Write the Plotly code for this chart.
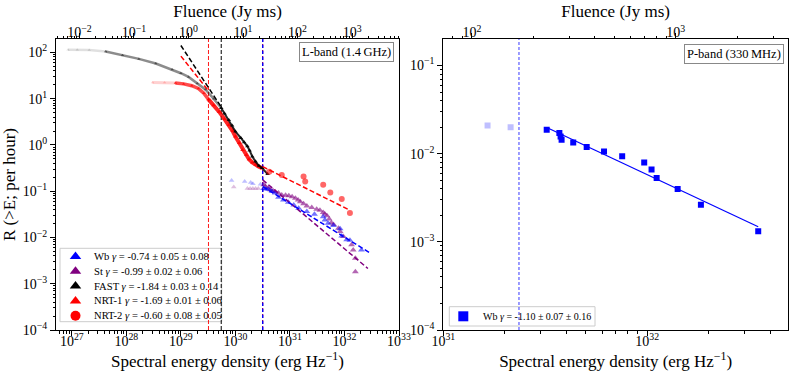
import numpy as np
import plotly.graph_objects as go

# all values are log10
# left panel: L-band, x = log10 spectral energy density (erg/Hz), y = log10 R(>E) per hour
fast_faint_logE = [26.93, 27.10, 27.32, 27.62, 27.93, 28.23, 28.54, 28.84, 29.00, 29.14, 29.30, 29.45, 29.60, 29.74]
fast_faint_logR = [2.06, 2.06, 2.05, 2.02, 1.94, 1.86, 1.76, 1.63, 1.55, 1.47, 1.33, 1.20, 1.00, 0.80]
fast_logE = [29.74, 29.80, 29.88, 29.94, 30.00, 30.10, 30.16, 30.22, 30.26, 30.31, 30.37, 30.43, 30.49, 30.59]
fast_logR = [0.80, 0.68, 0.54, 0.42, 0.29, 0.15, 0.06, -0.03, -0.12, -0.25, -0.36, -0.45, -0.50, -0.63]

nrt1_faint_logE = [28.48, 28.70, 28.90, 29.05, 29.20, 29.32, 29.42, 29.51]
nrt1_faint_logR = [1.35, 1.35, 1.34, 1.32, 1.28, 1.22, 1.12, 0.98]
nrt1_logE = [29.51, 29.60, 29.70, 29.80, 29.88, 29.95, 30.00, 30.07, 30.13, 30.20, 30.25, 30.31, 30.37, 30.43, 30.49]
nrt1_logR = [0.98, 0.86, 0.72, 0.56, 0.43, 0.30, 0.18, 0.04, -0.11, -0.22, -0.31, -0.38, -0.43, -0.47, -0.50]

nrt2_logE = [30.62, 30.85, 31.25, 31.28, 31.61, 31.74, 31.95, 32.10]
nrt2_logR = [-0.58, -0.65, -0.68, -0.79, -0.86, -1.03, -1.17, -1.47]

st_faint_logE = [29.97, 30.22, 30.27, 30.32, 30.37, 30.42]
st_faint_logR = [-0.91, -0.94, -0.94, -0.94, -0.94, -0.94]
st_logE = [30.52, 30.55, 30.60, 30.64, 30.69, 30.73, 30.79, 30.85, 30.92, 30.98, 31.04, 31.10, 31.15, 31.19,
           31.25, 31.31, 31.40, 31.49, 31.55, 31.61, 31.64, 31.68, 31.72, 31.76, 31.80, 31.89, 31.92, 31.98,
           32.13, 32.16, 32.20, 32.20]
st_logR = [-0.86, -0.90, -0.93, -0.97, -0.99, -1.01, -1.04, -1.08, -1.09, -1.10, -1.12, -1.15, -1.19, -1.23,
           -1.27, -1.32, -1.35, -1.39, -1.41, -1.46, -1.49, -1.53, -1.60, -1.68, -1.72, -1.80, -1.87, -1.98,
           -2.16, -2.27, -2.45, -2.74]

wb_faint_logE = [29.93, 30.17, 30.28, 30.32, 30.46]
wb_faint_logR = [-0.77, -0.79, -0.81, -0.84, -0.85]
wb_logE = [30.52, 30.56, 30.61, 30.67, 30.73, 30.79, 30.88, 30.97, 31.07, 31.16, 31.31, 31.45, 31.61, 31.64,
           31.70, 31.80, 31.92, 31.95, 32.04, 32.10, 32.31]
wb_logR = [-0.94, -0.95, -0.96, -1.00, -1.04, -1.13, -1.19, -1.24, -1.30, -1.37, -1.44, -1.50, -1.55, -1.62,
           -1.69, -1.74, -1.81, -1.97, -2.05, -2.06, -2.27]

# power-law fits (end points)
fit_fast = ([29.00, 29.75], [2.15, 0.80])
fit_nrt1 = ([29.00, 29.50], [1.92, 1.18])
fit_nrt2 = ([30.50, 32.08], [-0.47, -1.40])
fit_st = ([30.50, 32.43], [-0.755, -2.67])
fit_wb = ([30.50, 32.45], [-0.90, -2.32])

# completeness thresholds
thr_nrt = 29.506
thr_fast = 29.74
thr_wb_st = 30.50

# right panel: P-band Wb
pb_faint_logE = [31.217, 31.330]
pb_faint_logR = [-1.680, -1.700]
pb_logE = [31.507, 31.569, 31.575, 31.580, 31.637, 31.703, 31.788, 31.877, 31.985, 32.021, 32.046, 32.149, 32.263, 32.544]
pb_logR = [-1.729, -1.767, -1.805, -1.843, -1.873, -1.925, -1.975, -2.031, -2.100, -2.180, -2.277, -2.400, -2.580, -2.880]
fit_pb = ([31.507, 32.544], [-1.703, -2.830])
thr_pb = 31.371

legend_left = [
    ("Wb", "-0.74 ± 0.05 ± 0.08", "blue", "triangle-up"),
    ("St", "-0.99 ± 0.02 ± 0.06", "purple", "triangle-up"),
    ("FAST", "-1.84 ± 0.03 ± 0.14", "black", "triangle-up"),
    ("NRT-1", "-1.69 ± 0.01 ± 0.06", "red", "triangle-up"),
    ("NRT-2", "-0.60 ± 0.08 ± 0.05", "red", "circle"),
]
legend_right = [("Wb", "-1.10 ± 0.07 ± 0.16", "blue", "square")]

FLU_OFF = 29.14  # log10(erg/Hz) per Jy ms
FONT = "Liberation Serif"


def lin(v):
    return [10.0 ** a for a in v]


def sup(n):
    return "10<sup>%s</sup>" % str(n).replace("-", "\u2212")


def minors(lo, hi):
    return [k * 10.0 ** n for n in range(lo, hi) for k in range(2, 10)]


def f(size):
    return dict(family=FONT, size=size, color="black")


fig = go.Figure()


def pts(xs, ys, color, symbol="triangle-up", size=6, xa="x", ya="y", line=None):
    mode = "markers" if line is None else "lines+markers"
    fig.add_trace(go.Scatter(
        x=lin(xs), y=lin(ys), mode=mode, xaxis=xa, yaxis=ya,
        marker=dict(symbol=symbol, size=size, color=color, line=dict(width=0)),
        line=dict(color=color, width=line or 1),
        showlegend=False, hoverinfo="skip",
    ))


def dline(xs, ys, color, dash="5px,2.5px", width=1.5, xa="x", ya="y"):
    fig.add_trace(go.Scatter(
        x=lin(xs), y=lin(ys), mode="lines", xaxis=xa, yaxis=ya,
        line=dict(color=color, width=width, dash=dash),
        showlegend=False, hoverinfo="skip",
    ))


# --- left panel ---
YL = [-4, 2.29]
dline([thr_nrt, thr_nrt], YL, "rgba(255,0,0,0.9)", dash="4px,2px", width=1)
dline([thr_fast, thr_fast], YL, "black", dash="4px,2px", width=1)
dline([thr_wb_st, thr_wb_st], YL, "purple", dash="4px,2px", width=1.3)
dline([thr_wb_st, thr_wb_st], YL, "blue", dash="3px,3px", width=1.3)

pts(fast_faint_logE[:4], fast_faint_logR[:4], "rgba(0,0,0,0.12)", size=3, line=2.5)
pts(fast_faint_logE[3:], fast_faint_logR[3:], "rgba(0,0,0,0.45)", size=3, line=2.5)
pts(nrt1_faint_logE[:3], nrt1_faint_logR[:3], "rgba(255,0,0,0.18)", size=3, line=3)
pts(nrt1_faint_logE[2:], nrt1_faint_logR[2:], "rgba(255,0,0,0.7)", size=3, line=3.5)
pts(nrt1_logE, nrt1_logR, "rgba(255,0,0,0.85)", size=4, line=4)
pts(fast_logE, fast_logR, "rgba(0,0,0,0.85)", size=4, line=2)

pts(st_faint_logE, st_faint_logR, "rgba(128,0,128,0.25)", size=5)
pts(wb_faint_logE, wb_faint_logR, "rgba(0,0,255,0.25)", size=5)
pts(st_logE, st_logR, "rgba(128,0,128,0.6)", size=6)
pts(wb_logE, wb_logR, "rgba(0,0,255,0.55)", size=6)
pts(nrt2_logE, nrt2_logR, "rgba(255,0,0,0.6)", symbol="circle", size=6)

dline(*fit_fast, "black")
dline(*fit_nrt1, "red")
dline(*fit_nrt2, "red")
dline(*fit_st, "purple")
dline(*fit_wb, "blue")

# --- right panel ---
YR = [-4, -0.70]
dline([thr_pb, thr_pb], YR, "rgba(0,0,255,0.6)", dash="3px,2px", width=1.3, xa="x2", ya="y2")
pts(pb_faint_logE, pb_faint_logR, "rgba(0,0,255,0.25)", symbol="square", size=6, xa="x2", ya="y2")
pts(pb_logE, pb_logR, "blue", symbol="square", size=6, xa="x2", ya="y2")
dline(*fit_pb, "blue", dash="solid", width=1.2, xa="x2", ya="y2")

# carriers for the fluence axes
for xa, ya, v in (("x3", "y", 1.0), ("x4", "y2", 100.0)):
    fig.add_trace(go.Scatter(x=[v], y=[1e-3], xaxis=xa, yaxis=ya, mode="markers",
                             marker=dict(opacity=0), showlegend=False, hoverinfo="skip"))

# --- hand made legends (paper coordinates via an invisible full-size axis pair) ---
L = 56.0
W = 793 - 56 - 5
H = 376 - 39 - 46


def px(x):
    return (x - L) / W


def py(y):
    return (330.0 - y) / H


shapes = []
annotations = []


def legend(items, box, mx, tx, ys, size):
    x0, x1, y0, y1 = box
    shapes.append(dict(type="rect", xref="paper", yref="paper", x0=px(x0), x1=px(x1),
                       y0=py(y1), y1=py(y0), line=dict(color="#cccccc", width=1),
                       fillcolor="rgba(255,255,255,0.8)", layer="below"))
    for (name, g, color, sym), y in zip(items, ys):
        fig.add_trace(go.Scatter(x=[px(mx)], y=[py(y)], xaxis="x5", yaxis="y5", mode="markers",
                                 marker=dict(symbol=sym, size=10, color=color),
                                 showlegend=False, hoverinfo="skip"))
        annotations.append(dict(xref="paper", yref="paper", x=px(tx), y=py(y), xanchor="left",
                                yanchor="middle", showarrow=False,
                                text="%s <i>γ</i> = %s" % (name, g), font=f(size)))


legend(legend_left, (60, 221.7, 248.3, 321.7), 75.5, 91.5, [256.5, 271.3, 286.1, 300.9, 315.7], 10.6)
legend(legend_right, (449.3, 595, 306.7, 326), 463.3, 480.5, [316.3], 10)

for text, cx, cy in (("L-band (1.4\u2009GHz)", 346, 51.7), ("P-band (330\u2009MHz)", 734, 54)):
    annotations.append(dict(xref="paper", yref="paper", x=px(cx), y=py(cy), xanchor="center",
                            yanchor="middle", showarrow=False, text=text, font=f(12.5),
                            bgcolor="white", bordercolor="#888888", borderwidth=1, borderpad=2))

ax = dict(type="log", showline=True, linecolor="black", linewidth=1, mirror=True, automargin=False,
          ticks="outside", ticklen=5, tickwidth=1, tickcolor="black", showgrid=False, zeroline=False,
          tickfont=f(14))
bottom = dict(ax, ticklabelstandoff=-7)
top = dict(type="log", showline=False, ticks="outside", ticklen=5, tickwidth=1, tickcolor="black",
           showgrid=False, zeroline=False, side="top", tickfont=f(14), automargin=False,
           ticklabelstandoff=-10)


def minor(vals):
    return dict(tickmode="array", tickvals=vals, ticks="outside", ticklen=2.5, tickwidth=0.8,
                tickcolor="black", showgrid=False)


ttl = f(17)
dom_l = [0, px(399)]
dom_r = [px(443.3), 1.0]
xlabel = "Spectral energy density (erg Hz<sup>\u22121</sup>)"

fig.update_layout(
    template="none",
    width=793, height=376,
    margin=dict(l=56, r=5, t=39, b=46),
    paper_bgcolor="white", plot_bgcolor="rgba(0,0,0,0)",
    font=f(12),
    showlegend=False,
    xaxis=dict(bottom, domain=dom_l, range=[26.71, 33.0], anchor="y",
               tickvals=[10.0 ** n for n in range(27, 34)], ticktext=[sup(n) for n in range(27, 34)],
               minor=minor(minors(26, 33)),
               title=dict(text=xlabel, font=ttl, standoff=2)),
    yaxis=dict(ax, domain=[0, 1], range=YL, anchor="x",
               tickvals=[10.0 ** n for n in range(-4, 3)], ticktext=[sup(n) for n in range(-4, 3)],
               minor=minor(minors(-4, 3)),
               title=dict(text="R (&gt;E; per hour)", font=ttl, standoff=6)),
    xaxis2=dict(bottom, domain=dom_r, range=[31.0, 32.69], anchor="y2",
                tickvals=[1e31, 1e32], ticktext=[sup(31), sup(32)],
                minor=minor(minors(31, 33)),
                title=dict(text=xlabel, font=ttl, standoff=2)),
    yaxis2=dict(ax, domain=[0, 1], range=YR, anchor="x2",
                tickvals=[10.0 ** n for n in range(-4, 0)], ticktext=[sup(n) for n in range(-4, 0)],
                minor=minor(minors(-4, 0))),
    xaxis3=dict(top, overlaying="x", anchor="y", range=[26.71 - FLU_OFF, 33.0 - FLU_OFF],
                tickvals=[10.0 ** n for n in range(-2, 4)], ticktext=[sup(n) for n in range(-2, 4)],
                minor=minor(minors(-3, 4)),
                title=dict(text="Fluence (Jy ms)", font=ttl, standoff=0)),
    xaxis4=dict(top, overlaying="x2", anchor="y2", range=[31.0 - FLU_OFF, 32.69 - FLU_OFF],
                tickvals=[1e2, 1e3], ticktext=[sup(2), sup(3)],
                minor=minor(minors(1, 4)),
                title=dict(text="Fluence (Jy ms)", font=ttl, standoff=0)),
    xaxis5=dict(domain=[0, 1], range=[0, 1], visible=False, anchor="y5"),
    yaxis5=dict(domain=[0, 1], range=[0, 1], visible=False, anchor="x5"),
    shapes=shapes,
    annotations=annotations,
)

# page body has a default 8px margin; drop it so the figure sits at the window origin
fig.write_html("out.html", config={"displayModeBar": False},
               post_script="document.body.style.margin='0';")
